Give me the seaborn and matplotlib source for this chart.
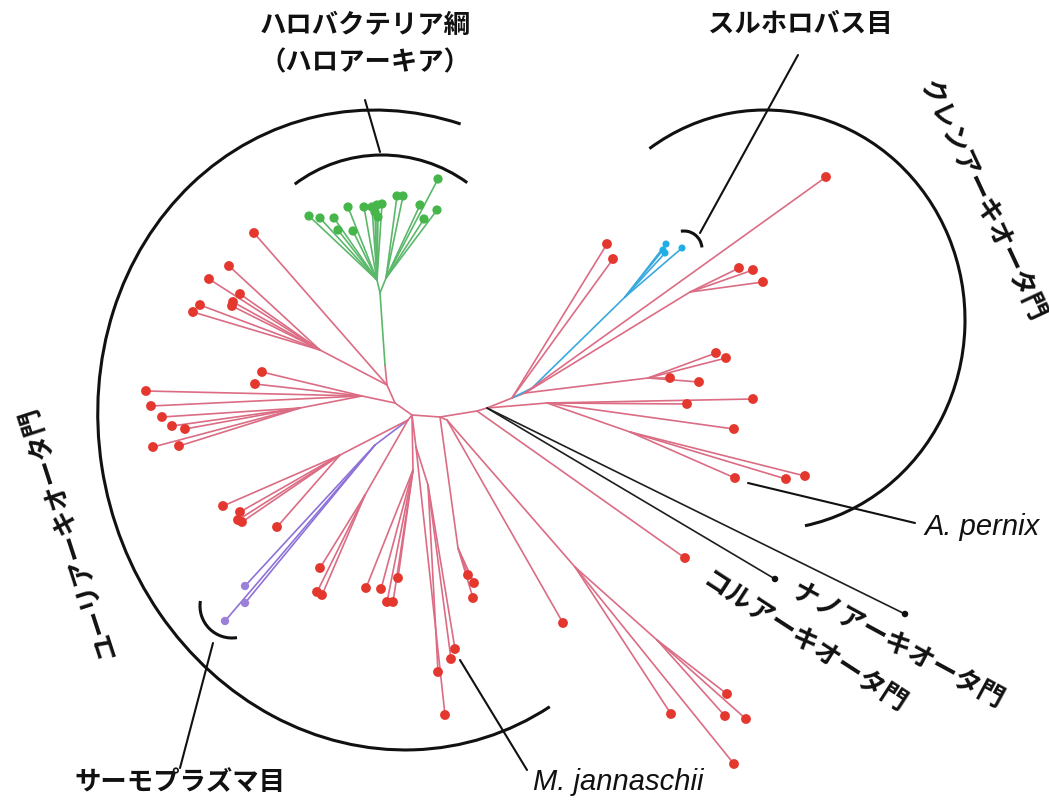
import numpy as np
import pandas as pd
import matplotlib
matplotlib.use("Agg")
import matplotlib.pyplot as plt
from matplotlib.patches import Arc
from matplotlib.collections import LineCollection
import seaborn as sns

# --- tree layout (unrooted tree, pixel-like layout units) ---
# internal nodes
node_x = [412, 395, 387, 385, 380, 377, 386, 320, 362, 300,
          440, 477, 487, 512, 525, 532, 625, 690, 648, 547,
          630, 447, 575, 657, 408, 375, 340, 365, 413, 416,
          428, 458]
node_y = [415, 403, 385, 365, 293, 280, 278, 350, 396, 408,
          417, 411, 408, 398, 393, 388, 297, 292, 378, 403,
          432, 420, 567, 640, 420, 445, 455, 495, 470, 447,
          485, 548]
node_parent = [-1, 0, 1, 2, 3, 4, 4, 2, 1, 8,
               0, 10, 11, 12, 13, 13, 15, 14, 14, 12,
               19, 10, 21, 22, 0, 24, 24, 24, 0, 0,
               29, 10]
node_clade = ["red", "red", "red", "red", "green", "green", "green", "red", "red", "red",
              "red", "red", "red", "red", "red", "blue", "blue", "red", "red", "red",
              "red", "red", "red", "red", "red", "purple", "red", "red", "red", "red",
              "red", "red"]

# leaves
tip_x = [309, 320, 334, 338, 348, 353, 364, 372, 377, 382, 375, 378,
         397, 403, 420, 424, 437, 438,
         254, 229, 209, 240, 233, 232, 200, 193,
         146, 151, 262, 255, 162, 172, 185, 153, 179,
         607, 613, 666, 665, 663, 682,
         739, 753, 763, 826, 716, 726, 670, 699,
         753, 687, 734, 735, 786, 805,
         775, 905,
         685, 563, 671, 734, 727, 725, 746,
         245, 245, 225,
         223, 240, 238, 242, 277,
         320, 317, 322,
         366, 381, 398, 387, 393,
         455, 451, 438, 445,
         468, 474, 473]
tip_y = [216, 218, 218, 230, 207, 231, 207, 207, 205, 204, 212, 217,
         196, 196, 205, 219, 210, 179,
         233, 266, 279, 294, 302, 306, 305, 312,
         391, 406, 372, 384, 417, 426, 429, 447, 446,
         244, 259, 244, 253, 250, 248,
         268, 270, 282, 177, 353, 358, 378, 382,
         399, 404, 429, 478, 479, 476,
         579, 614,
         558, 623, 714, 764, 694, 716, 719,
         586, 603, 621,
         506, 512, 520, 522, 527,
         568, 592, 595,
         588, 589, 578, 602, 602,
         649, 659, 672, 715,
         575, 583, 598]
tip_parent = [5] * 12 + [6] * 6 + [2] + [7] * 7 + [8] * 4 + [9] * 5 \
    + [13, 13] + [16] * 4 + [17] * 3 + [14] + [18] * 4 \
    + [19] * 3 + [20] * 3 + [12, 12] + [11, 21, 22, 22] + [23] * 3 \
    + [25] * 3 + [26] * 5 + [27] * 3 + [28] * 5 + [30, 30, 30, 29] + [31] * 3
tip_clade = ["green"] * 18 + ["red"] * 17 + ["red", "red"] + ["blue"] * 4 \
    + ["red"] * 14 + ["black", "black"] + ["red"] * 7 + ["purple"] * 3 \
    + ["red"] * 20

edge_colors = {"red": "#db6c84", "green": "#5bb86b", "blue": "#3aa9de",
               "purple": "#8e72d8", "black": "#1e1e1e"}
dot_colors = {"red": "#e4372e", "green": "#46b54a", "blue": "#21aee6",
              "purple": "#9b80d9", "black": "#111111"}
dot_sizes = {"red": 50, "green": 44, "blue": 26, "purple": 36, "black": 22}

sns.set_theme(style="white")
plt.rcParams["font.family"] = ["Noto Sans CJK JP", "DejaVu Sans"]

fig = plt.figure(figsize=(10.49, 8.01), dpi=100)
ax = fig.add_axes([0, 0, 1, 1])

# branches
segs, cols = [], []
for i, p in enumerate(node_parent):
    if p >= 0:
        segs.append([(node_x[p], node_y[p]), (node_x[i], node_y[i])])
        cols.append(edge_colors[node_clade[i]])
for i, p in enumerate(tip_parent):
    segs.append([(node_x[p], node_y[p]), (tip_x[i], tip_y[i])])
    cols.append(edge_colors[tip_clade[i]])
ax.add_collection(LineCollection(segs, colors=cols, linewidths=1.2,
                                 capstyle="round", zorder=1))

tips = pd.DataFrame({"x": tip_x, "y": tip_y, "clade": tip_clade})
sns.scatterplot(data=tips, x="x", y="y", hue="clade", size="clade",
                palette=dot_colors, sizes=dot_sizes, edgecolor="none",
                legend=False, ax=ax, zorder=3)
ax.set_xlim(0, 1049)
ax.set_ylim(801, 0)
ax.axis("off")

# group brackets
arc_kw = dict(color="#111111", lw=2.2, zorder=2)
ax.add_patch(Arc((390, 430), 580, 644, angle=-15, theta1=75, theta2=298, **arc_kw))
ax.add_patch(Arc((765, 320), 400, 420, theta1=-124, theta2=79, **arc_kw))
ax.add_patch(Arc((382, 300), 290, 290, theta1=233, theta2=306, **arc_kw))
ax.add_patch(Arc((684, 249), 36, 36, theta1=-100, theta2=-5, **arc_kw))
ax.add_patch(Arc((232, 606), 64, 64, theta1=81, theta2=189, **arc_kw))

# pointer lines
line_kw = dict(color="#111111", lw=1.5, zorder=2)
ax.plot([365, 380], [100, 152], **line_kw)
ax.plot([798, 700], [55, 233], **line_kw)
ax.plot([748, 915], [483, 523], **line_kw)
ax.plot([460, 527], [660, 770], **line_kw)
ax.plot([213, 180], [643, 768], **line_kw)

# labels
fs = 19
jp = dict(fontsize=fs, ha="center", va="center", fontweight="bold", color="#111111")
ax.text(365, 25, "ハロバクテリア綱", **jp)
ax.text(365, 63, "（ハロアーキア）", **jp)
ax.text(800, 25, "スルホロバス目", **jp)
ax.text(982, 200, "クレンアーキオータ門", rotation=-65, rotation_mode="anchor", **jp)
ax.text(68, 533, "ユーリアーキオータ門", rotation=108, rotation_mode="anchor", **jp)
ax.text(804, 643, "コルアーキオータ門", rotation=-33, rotation_mode="anchor", **jp)
ax.text(898, 646, "ナノアーキオータ門", rotation=-28.5, rotation_mode="anchor", **jp)
ax.text(180, 782, "サーモプラズマ目", **jp)
ax.text(982, 527, "A. pernix", fontsize=21, ha="center", va="center",
        family="Liberation Sans", style="italic", color="#111111")
ax.text(618, 782, "M. jannaschii", fontsize=21, ha="center", va="center",
        family="Liberation Sans", style="italic", color="#111111")

fig.savefig("out.png", dpi=100)
plt.close(fig)
